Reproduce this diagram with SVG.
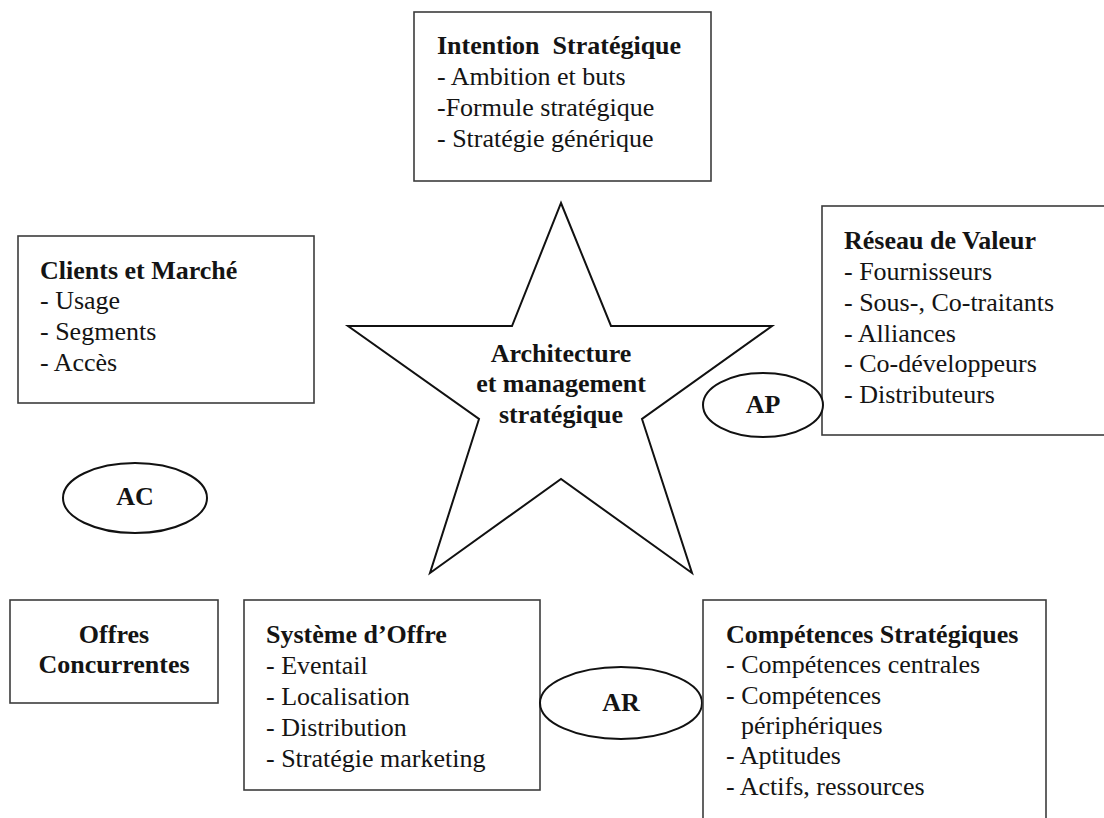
<svg xmlns="http://www.w3.org/2000/svg" width="1104" height="818" viewBox="0 0 1104 818">
<style>
.box{fill:#fff;stroke:#3c3c3c;stroke-width:1.6}
.ell{fill:#fff;stroke:#111;stroke-width:2}
.star{fill:#fff;stroke:#111;stroke-width:2;stroke-linejoin:miter}
text{font-family:"Liberation Serif","Times New Roman",serif;font-size:26px;fill:#141414}
.b{font-weight:bold}
.c{text-anchor:middle}
</style>
<rect width="1104" height="818" fill="#fff"/>
<g id="connectors"></g>
<g id="star">
<polygon class="star" points="561,203 611,326 772,326 642,419 692,573 561,479 430,573 479,419 348,326 512,326"/>
<text class="b c" x="561" y="362">Architecture</text>
<text class="b c" x="561" y="392">et management</text>
<text class="b c" x="561" y="423">stratégique</text>
</g>
<g id="intention">
<rect class="box" x="414" y="12" width="297" height="169"/>
<text class="b" x="437" y="54" xml:space="preserve">Intention  Stratégique</text>
<text x="437" y="85">- Ambition et buts</text>
<text x="437" y="116">-Formule stratégique</text>
<text x="437" y="147">- Stratégie générique</text>
</g>
<g id="clients">
<rect class="box" x="18" y="236" width="296" height="167"/>
<text class="b" x="40" y="279">Clients et Marché</text>
<text x="40" y="309">- Usage</text>
<text x="40" y="340">- Segments</text>
<text x="40" y="371">- Accès</text>
</g>
<g id="reseau">
<rect class="box" x="822" y="206" width="300" height="229"/>
<text class="b" x="844" y="249">Réseau de Valeur</text>
<text x="844" y="280">- Fournisseurs</text>
<text x="844" y="311">- Sous-, Co-traitants</text>
<text x="844" y="342">- Alliances</text>
<text x="844" y="372">- Co-développeurs</text>
<text x="844" y="403">- Distributeurs</text>
</g>
<g id="ap">
<ellipse class="ell" cx="763" cy="405" rx="60" ry="32"/>
<text class="b c" x="763" y="413">AP</text>
</g>
<g id="ac">
<ellipse class="ell" cx="135" cy="498" rx="72" ry="35"/>
<text class="b c" x="135" y="505">AC</text>
</g>
<g id="offres">
<rect class="box" x="10" y="600" width="208" height="103"/>
<text class="b c" x="114" y="643">Offres</text>
<text class="b c" x="114" y="673">Concurrentes</text>
</g>
<g id="systeme">
<rect class="box" x="244" y="600" width="296" height="190"/>
<text class="b" x="266" y="643">Système d’Offre</text>
<text x="266" y="674">- Eventail</text>
<text x="266" y="705">- Localisation</text>
<text x="266" y="736">- Distribution</text>
<text x="266" y="767">- Stratégie marketing</text>
</g>
<g id="ar">
<ellipse class="ell" cx="621" cy="703" rx="81" ry="36"/>
<text class="b c" x="621" y="711">AR</text>
</g>
<g id="competences">
<rect class="box" x="703" y="600" width="343" height="240"/>
<text class="b" x="726" y="643">Compétences Stratégiques</text>
<text x="726" y="673">- Compétences centrales</text>
<text x="726" y="704">- Compétences</text>
<text x="741" y="734">périphériques</text>
<text x="726" y="764">- Aptitudes</text>
<text x="726" y="795">- Actifs, ressources</text>
</g>
</svg>
